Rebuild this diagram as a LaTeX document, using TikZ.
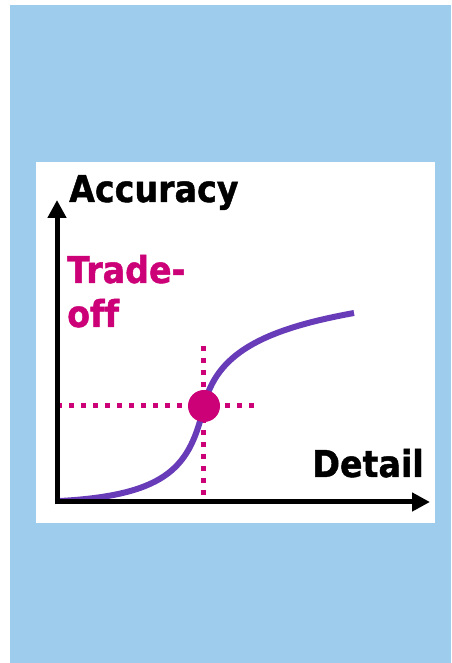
\documentclass[tikz,border=0pt]{standalone}
\usepackage{fontspec}
\setmainfont{DejaVu Sans}[FakeStretch=0.9, Ligatures=NoCommon, BoldFeatures={FakeBold=1.2}]
\usetikzlibrary{arrows.meta}
\definecolor{bgblue}{RGB}{158,204,236}
\definecolor{tradeoff}{RGB}{204,0,119}
\definecolor{curvepurple}{RGB}{104,60,184}
\tikzset{
  axis/.style={line width=5pt, -{Triangle[length=18pt,width=18pt]}},
  label/.style={inner sep=0pt, font=\fontsize{37}{44}\selectfont\bfseries},
  guide/.style={tradeoff, line width=5pt, dash pattern=on 5pt off 7pt},
  curve/.style={curvepurple, line width=6pt},
}
\begin{document}
\begin{tikzpicture}[x=1pt,y=1pt]
\useasboundingbox (0,0) rectangle (451,663);
\fill[bgblue] (10,0) rectangle (451,658);
\fill[white] (36,140) rectangle (435,501);
% named points
\coordinate (yb) at (57,158.5);
\coordinate (yt) at (57,463);
\coordinate (xb) at (54.5,161);
\coordinate (xt) at (430,161);
\coordinate (hl) at (57.3,257);
\coordinate (hr) at (254.5,257);
\coordinate (vt) at (203,317);
\coordinate (vb) at (203,168);
\coordinate (c0) at (60,162);
\coordinate (cm) at (204,257);
\coordinate (c1) at (354,350);
% guides
\draw[guide] (hl) -- (hr);
\draw[guide] (vt) -- (vb);
% curve
\draw[curve] (c0) .. controls (170,168) and (190,198) .. (cm)
  .. controls (216,308) and (260,333) .. (c1);
% point
\node[circle, fill=tradeoff, minimum size=32pt, inner sep=0pt] (dot) at (cm) {};
% axes
\draw[axis] (yb) -- (yt);
\draw[axis] (xb) -- (xt);
% labels
\node[label, anchor=base west] (acc) at (69,461) {Accuracy};
\node[label, anchor=base west, text=tradeoff] (tr) at (67,380) {Trade-};
\node[label, anchor=base west, text=tradeoff] (off) at (67,336) {off};
\node[label, anchor=base east] (det) at (424,186) {Detail};
\end{tikzpicture}
\end{document}
